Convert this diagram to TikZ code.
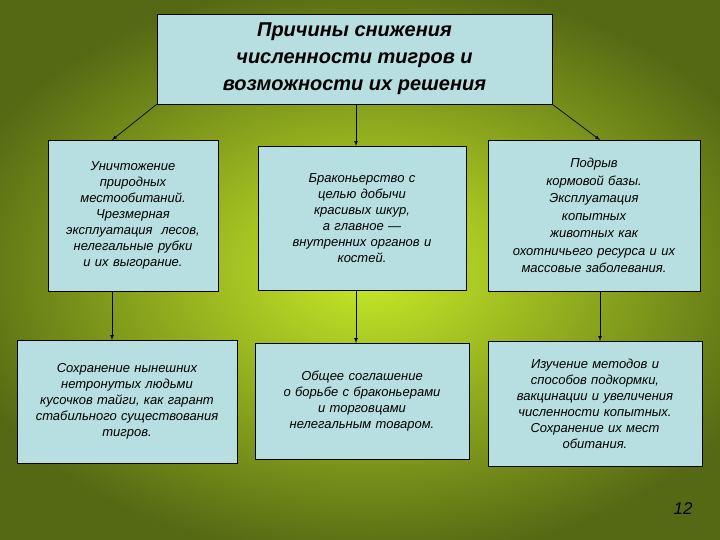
\documentclass[tikz,border=0pt]{standalone}
\usepackage{fontspec}
\setmainfont{Liberation Sans}
\begin{document}
\begin{tikzpicture}[x=1pt,y=-1pt,
  box/.style={draw=black,line width=0.6pt,fill=boxblue,align=center,font=\itshape\fontsize{13}{16}\selectfont,inner sep=2pt},
  arr/.style={draw=black,line width=0.7pt,-latex}]
\definecolor{boxblue}{HTML}{B7DEE0}
\useasboundingbox (0,0) rectangle (720,540);
\shade[inner color={rgb,255:red,200;green,235;blue,40},outer color={rgb,255:red,85;green,105;blue,20}] (-60,-20) rectangle (800,560);
\node[box,minimum width=395,minimum height=90,font=\bfseries\itshape\fontsize{20}{27}\selectfont] (top) at (354.5,59) {Причины снижения\\численности тигров и\\возможности их решения};
\node[box,minimum width=170,minimum height=151,text width=166] (a1) at (133,215.5) {Уничтожение\\природных\\местообитаний.\\Чрезмерная\\эксплуатация~ лесов,\\нелегальные рубки\\и их выгорание.};
\node[box,minimum width=208,minimum height=144,text width=204] (b1) at (362,218) {Браконьерство с\\целью добычи\\красивых шкур,\\а главное —\\внутренних органов и\\костей.};
\node[box,minimum width=212,minimum height=151,text width=208,font=\itshape\fontsize{13}{17.5}\selectfont] (c1) at (594,215.5) {Подрыв\\кормовой базы.\\Эксплуатация\\копытных\\животных как\\охотничьего ресурса и их\\массовые заболевания.};
\node[box,minimum width=218,minimum height=123,text width=216] (a2) at (127,401.5) {Сохранение нынешних\\нетронутых людьми\\кусочков тайги, как гарант\\стабильного существования\\тигров.};
\node[box,minimum width=212,minimum height=116,text width=210] (b2) at (362,401) {Общее соглашение\\о борьбе с браконьерами\\и торговцами\\нелегальным товаром.};
\node[box,minimum width=214,minimum height=125,text width=210] (c2) at (595,403.5) {Изучение методов и\\способов подкормки,\\вакцинации и увеличения\\численности копытных.\\Сохранение их мест\\обитания.};
\node[font=\itshape\fontsize{17}{20}\selectfont] (pg) at (683,509) {12};
\draw[arr] (top.south west) -- (112,140);
\draw[arr] (356,104) -- (356,146);
\draw[arr] (top.south east) -- (600,140);
\draw[arr] (112,291) -- (112,340);
\draw[arr] (356,290) -- (356,343);
\draw[arr] (600,291) -- (600,341);
\end{tikzpicture}
\end{document}
